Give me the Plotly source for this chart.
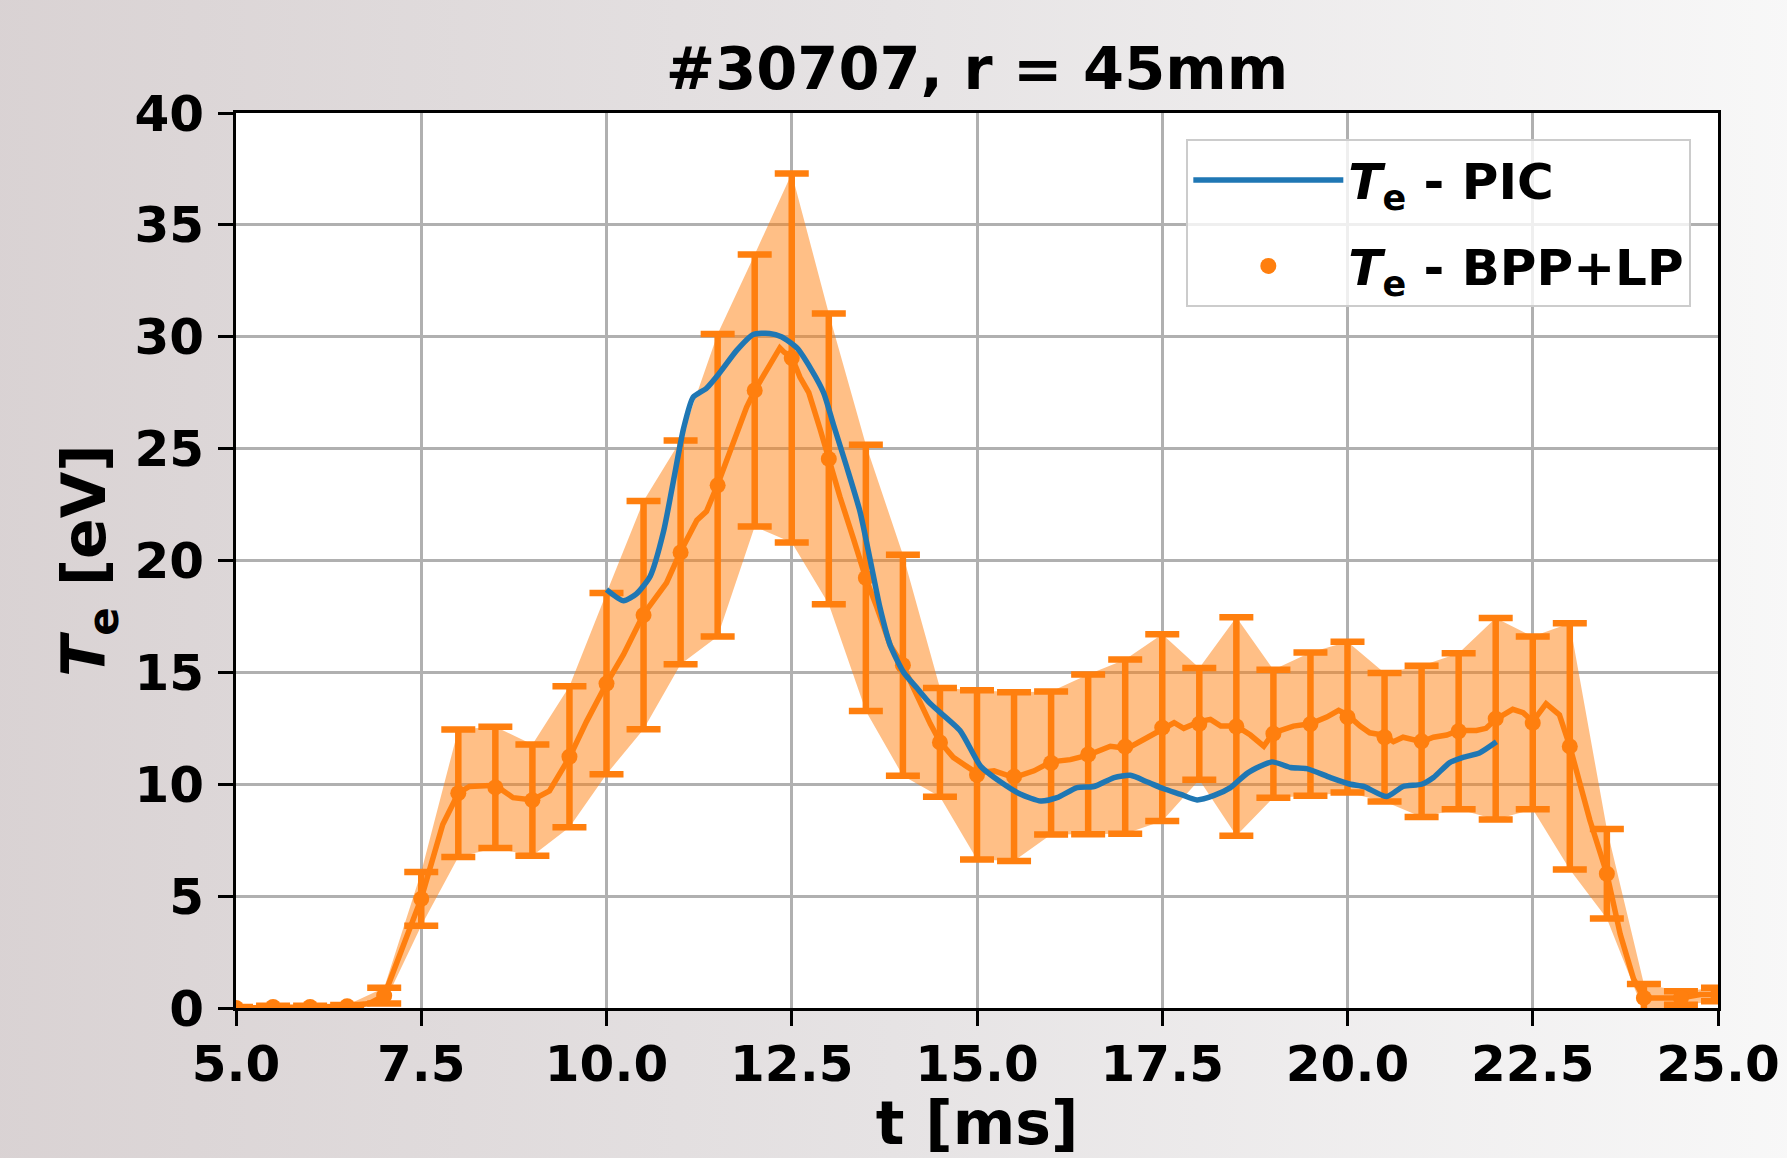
import base64
import plotly.graph_objects as go

# ---------------- data ----------------
# BPP+LP measurement points (every 0.5 ms) with symmetric error bars
T_PTS = [5.0, 5.5, 6.0, 6.5, 7.0, 7.5, 8.0, 8.5, 9.0, 9.5, 10.0, 10.5, 11.0, 11.5,
         12.0, 12.5, 13.0, 13.5, 14.0, 14.5, 15.0, 15.5, 16.0, 16.5, 17.0, 17.5,
         18.0, 18.5, 19.0, 19.5, 20.0, 20.5, 21.0, 21.5, 22.0, 22.5, 23.0, 23.5,
         24.0, 24.5, 25.0]
TE_BPP = [0.0, 0.05, 0.05, 0.08, 0.55, 4.88, 9.6, 9.86, 9.29, 11.23, 14.5, 17.56,
          20.36, 23.36, 27.6, 29.05, 24.54, 19.22, 15.32, 11.87, 10.42, 10.34, 10.95,
          11.33, 11.68, 12.53, 12.7, 12.58, 12.26, 12.69, 13.0, 12.1, 11.92, 12.37,
          12.93, 12.74, 11.69, 6.0, 0.45, 0.45, 0.6]
TE_ERR = [0.05, 0.05, 0.05, 0.05, 0.35, 1.2, 2.85, 2.71, 2.49, 3.15, 4.05, 5.1, 5.0,
          6.76, 6.08, 8.25, 6.5, 5.95, 4.94, 2.43, 3.78, 3.77, 3.2, 3.57, 3.89, 4.17,
          2.5, 4.88, 2.86, 3.2, 3.37, 2.87, 3.38, 3.49, 4.5, 3.86, 5.5, 2.0, 0.62,
          0.3, 0.3]

# BPP+LP fine-resolution trace
T_FINE = [5.0, 5.5, 6.0, 6.5, 6.8, 7.0, 7.25, 7.5, 7.79, 8.0, 8.15, 8.5, 8.74, 9.0,
          9.23, 9.5, 9.73, 10.0, 10.23, 10.5, 10.81, 11.0, 11.22, 11.35, 11.5, 11.62,
          11.76, 11.89, 12.0, 12.16, 12.34, 12.4, 12.5, 12.61, 12.73, 12.88, 13.0,
          13.15, 13.33, 13.5, 13.65, 13.83, 14.0, 14.19, 14.37, 14.5, 14.68, 14.86,
          15.0, 15.23, 15.5, 15.77, 16.0, 16.26, 16.5, 16.8, 17.03, 17.25, 17.5,
          17.66, 17.79, 18.0, 18.15, 18.29, 18.5, 18.69, 18.87, 19.0, 19.27, 19.5,
          19.72, 19.88, 20.0, 20.17, 20.3, 20.48, 20.62, 20.75, 21.0, 21.16, 21.34,
          21.5, 21.74, 21.87, 22.0, 22.23, 22.37, 22.5, 22.68, 22.86, 23.0, 23.27,
          23.5, 23.68, 23.86, 24.0, 24.27, 24.5, 24.76, 25.0]
TE_FINE = [0.0, 0.05, 0.05, 0.08, 0.2, 0.55, 2.8, 4.9, 8.2, 9.6, 9.9, 9.95, 9.4, 9.3,
           9.7, 11.2, 12.8, 14.5, 15.8, 17.6, 19.0, 20.4, 21.8, 22.2, 23.4, 24.5,
           25.8, 26.85, 27.6, 28.5, 29.5, 29.3, 29.1, 28.2, 27.5, 25.9, 24.5,
           22.85, 21.0, 19.2, 17.9, 16.2, 15.3, 13.9, 12.7, 11.9, 11.2, 10.8,
           10.5, 10.6, 10.3, 10.6, 11.0, 11.1, 11.3, 11.7, 11.6, 12.0, 12.5,
           12.75, 12.5, 12.8, 12.9, 12.6, 12.6, 12.2, 11.7, 12.3, 12.6, 12.7,
           13.0, 13.3, 13.1, 12.6, 12.3, 12.2, 11.9, 12.1, 11.9, 12.1, 12.2,
           12.4, 12.4, 12.5, 12.9, 13.35, 13.2, 12.8, 13.6, 13.1, 11.7, 8.4,
           6.0, 3.3, 1.3, 0.45, 0.45, 0.45, 0.6, 0.6]

# PIC simulation
T_PIC = [10.0, 10.23, 10.4, 10.59, 10.77, 10.9, 11.04, 11.17, 11.35, 11.53, 11.76,
         11.98, 12.2, 12.36, 12.57, 12.77, 12.93, 13.06, 13.24, 13.42, 13.56, 13.69,
         13.83, 14.01, 14.19, 14.37, 14.77, 15.05, 15.32, 15.59, 15.86, 16.08, 16.35,
         16.58, 16.85, 17.07, 17.3, 17.52, 17.75, 17.97, 18.2, 18.42, 18.65, 18.98,
         19.23, 19.45, 19.77, 20.04, 20.22, 20.53, 20.75, 21.0, 21.16, 21.38, 21.56,
         21.78, 22.01]
TE_PIC = [18.7, 18.2, 18.5, 19.3, 21.3, 23.5, 25.9, 27.3, 27.7, 28.4, 29.4,
          30.1, 30.15, 30.0, 29.5, 28.5, 27.5, 26.1, 24.2, 22.2, 20.0, 17.9,
          16.2, 15.0, 14.3, 13.6, 12.4, 10.8, 10.1, 9.55, 9.25, 9.4, 9.85,
          9.9, 10.3, 10.4, 10.1, 9.8, 9.55, 9.3, 9.5, 9.85, 10.5, 11.0,
          10.75, 10.7, 10.3, 10.0, 9.9, 9.45, 9.9, 10.0, 10.3, 10.97, 11.2,
          11.4, 11.9]

X_TICKS = [5.0, 7.5, 10.0, 12.5, 15.0, 17.5, 20.0, 22.5, 25.0]
Y_TICKS = [0, 5, 10, 15, 20, 25, 30, 35, 40]

ORANGE = "#ff7f0e"
BLUE = "#1f77b4"
FONT = "DejaVu Sans"

upper = [v + e for v, e in zip(TE_BPP, TE_ERR)]
lower = [v - e for v, e in zip(TE_BPP, TE_ERR)]

fig = go.Figure()

# error band
fig.add_trace(go.Scatter(x=T_PTS, y=lower, mode="lines", line=dict(width=0),
                         showlegend=False, hoverinfo="skip", legendgroup="c"))
fig.add_trace(go.Scatter(x=T_PTS, y=upper, mode="lines", line=dict(width=0),
                         fill="tonexty", fillcolor="rgba(255,127,14,0.5)",
                         showlegend=False, hoverinfo="skip", legendgroup="c"))
# fine BPP line
fig.add_trace(go.Scatter(x=T_FINE, y=TE_FINE, mode="lines",
                         line=dict(color=ORANGE, width=5.5), showlegend=False,
                         legendgroup="c"))
# error-bar points
fig.add_trace(go.Scatter(x=T_PTS, y=TE_BPP, mode="markers",
                         marker=dict(color=ORANGE, size=16),
                         error_y=dict(type="data", array=TE_ERR, visible=True,
                                      color=ORANGE, thickness=6.5, width=17),
                         name="<i>T</i><sub>e</sub> - BPP+LP", legendrank=2,
                         legendgroup="b"))
# PIC line
fig.add_trace(go.Scatter(x=T_PIC, y=TE_PIC, mode="lines",
                         line=dict(color=BLUE, width=5.5, shape="spline", smoothing=0.6),
                         name="<i>T</i><sub>e</sub> - PIC", legendrank=1,
                         legendgroup="a"))

# gradient background
W, H = 1787, 1158
L, R, T, B = 236, 69, 113, 150
svg = (f'<svg xmlns="http://www.w3.org/2000/svg" width="{W}" height="{H}">'
       '<defs><linearGradient id="g" x1="0" y1="0" x2="1" y2="0">'
       '<stop offset="0" stop-color="#d9d2d3"/>'
       '<stop offset="0.5" stop-color="#e6e3e4"/>'
       '<stop offset="1" stop-color="#f8f8f8"/></linearGradient></defs>'
       f'<rect width="{W}" height="{H}" fill="url(#g)"/></svg>')
src = "data:image/svg+xml;base64," + base64.b64encode(svg.encode()).decode()
pw, ph = W - L - R, H - T - B
ex = 20  # extra px so the background surely covers the page edges

fig.update_layout(
    images=[dict(source=src, xref="paper", yref="paper",
                 x=-(L + ex) / pw, y=1 + (T + ex) / ph,
                 sizex=(W + 2 * ex) / pw, sizey=(H + 2 * ex) / ph,
                 xanchor="left", yanchor="top", sizing="stretch", layer="below")],
    shapes=[dict(type="rect", xref="paper", yref="paper", x0=0, x1=1, y0=0, y1=1,
                 fillcolor="white", line=dict(width=0), layer="below")],
    width=W, height=H, autosize=False,
    margin=dict(l=L, r=R, t=T, b=B, pad=0),
    paper_bgcolor="#efeded", plot_bgcolor="white",
    font=dict(family=FONT, color="black", weight="bold"),
    title=dict(text="#30707, r = 45mm", x=0.5, xref="paper", xanchor="center",
               y=1 - 68 / H, yanchor="middle",
               font=dict(size=59, family=FONT, weight="bold")),
    showlegend=True,
    legend=dict(x=0.982, y=0.971, xanchor="right", yanchor="top",
                traceorder="grouped",
                bgcolor="rgba(255,255,255,0.8)", bordercolor="#cccccc", borderwidth=2,
                font=dict(size=50, family=FONT, weight="bold"), itemwidth=150,
                tracegroupgap=18),
)

axis_common = dict(showline=True, linewidth=3, linecolor="black", mirror=True,
                   ticks="outside", ticklen=15, tickwidth=3, tickcolor="black",
                   showgrid=True, gridcolor="#b0b0b0", gridwidth=2.5, zeroline=False,
                   automargin=False,
                   tickfont=dict(size=50, family=FONT, weight="bold"))

fig.update_xaxes(range=[5, 25], tickvals=X_TICKS, tickformat=".1f",
                 title=dict(text="t [ms]", font=dict(size=60, family=FONT, weight="bold"),
                            standoff=17),
                 ticklabelstandoff=-5, **axis_common)
fig.update_yaxes(range=[0, 40], tickvals=Y_TICKS,
                 title=dict(text="<i>T</i><sub>e</sub> [eV]",
                            font=dict(size=60, family=FONT, weight="bold"), standoff=10),
                 ticklabelstandoff=4, **axis_common)

post = ("document.documentElement.style.margin='0';"
        "document.documentElement.style.overflow='hidden';"
        "document.body.style.margin='0';"
        "document.body.style.overflow='hidden';"
        "var gd=document.querySelector('.plotly-graph-div');"
        "gd.style.position='absolute';gd.style.left='0px';gd.style.top='0px';")

fig.write_html("out.html", config={"displayModeBar": False}, post_script=post)
